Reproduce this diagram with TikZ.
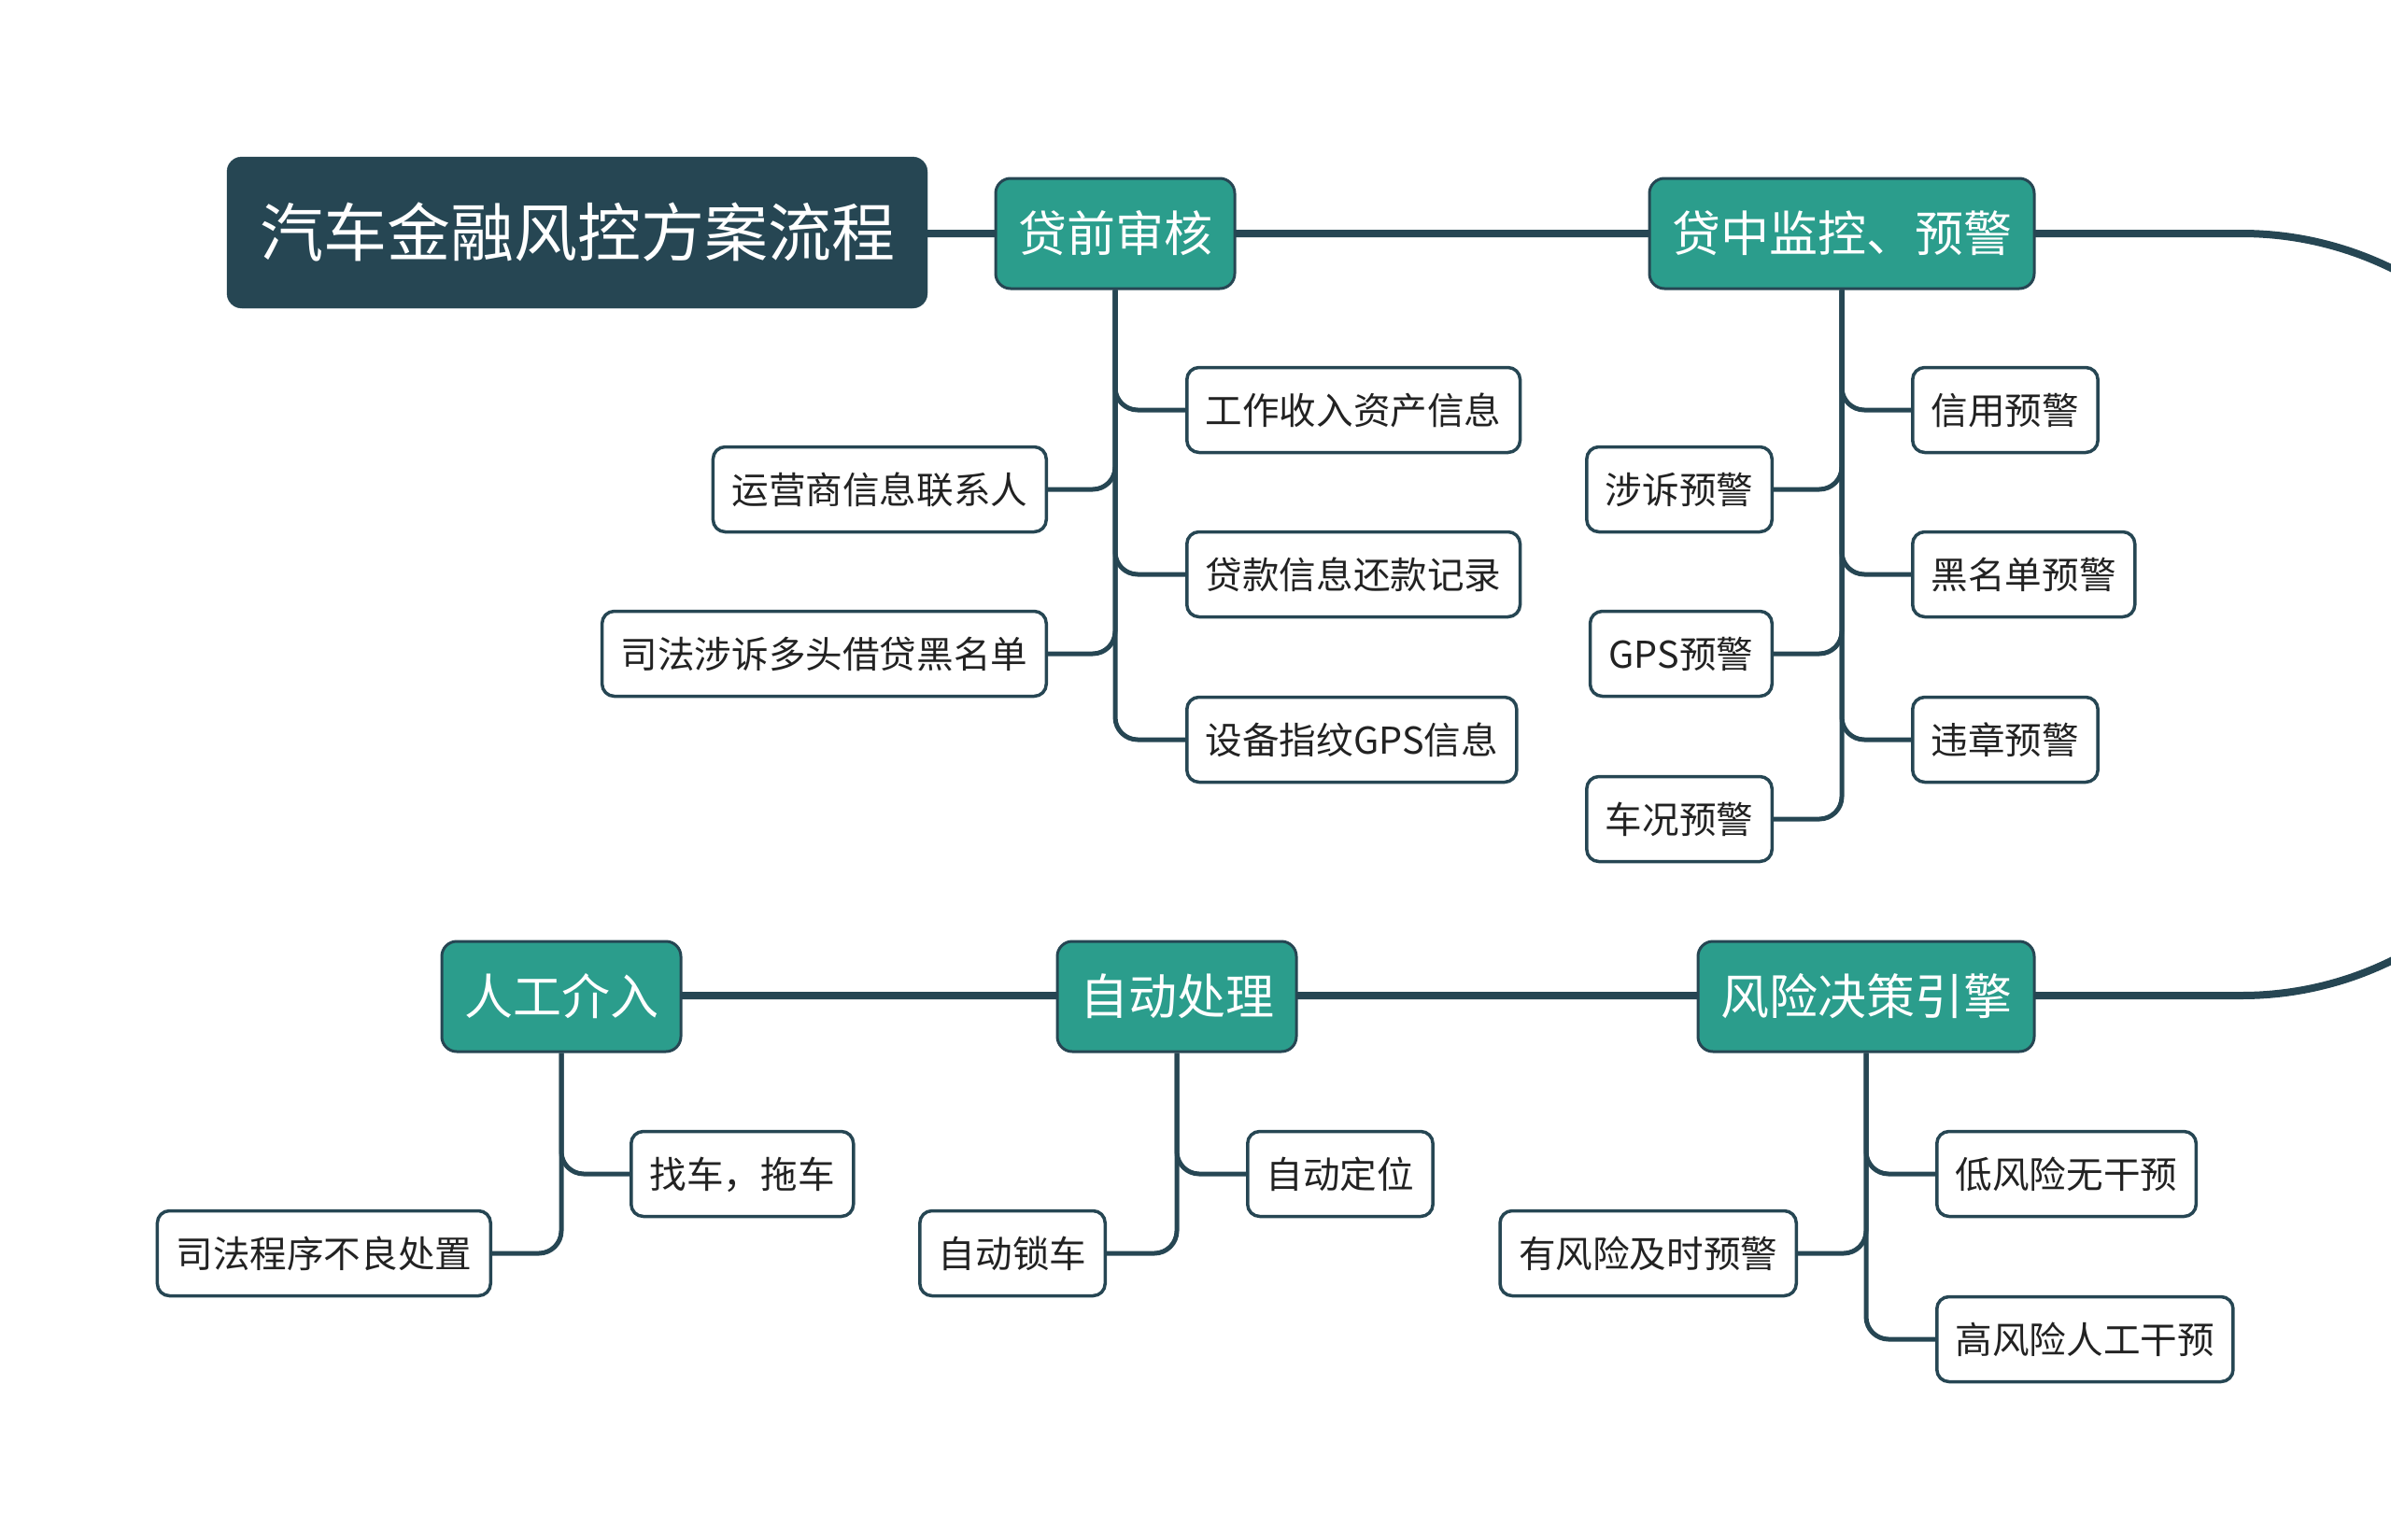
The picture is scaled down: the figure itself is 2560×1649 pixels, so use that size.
\documentclass[tikz,border=0pt]{standalone}
\usepackage{fontspec}
\newfontfamily\cjk{Noto Sans CJK SC}
\usetikzlibrary{calc}
\definecolor{slate}{RGB}{38,70,83}
\definecolor{topicgreen}{RGB}{43,157,140}
\definecolor{ink}{RGB}{34,34,34}
\tikzset{rootbox/.style={fill=slate, draw=slate, rounded corners=16pt, text=white,
    font=\cjk\fontsize{68}{80}\selectfont, minimum height=162pt, inner xsep=35pt, inner ysep=0pt,
    text height=56.4pt, text depth=4.8pt},
  topic/.style={fill=topicgreen, draw=slate, line width=3pt, rounded corners=16pt, text=white,
    font=\cjk\fontsize{52}{62}\selectfont, minimum height=118pt, inner xsep=24pt, inner ysep=0pt,
    text height=43.2pt, text depth=3.6pt},
  leaf/.style={fill=white, draw=slate, line width=3.5pt, rounded corners=13pt, text=ink,
    font=\cjk\fontsize{39.6}{48}\selectfont, minimum height=91pt, inner xsep=20pt, inner ysep=0pt,
    text height=32.9pt, text depth=2.8pt},
  trunk/.style={draw=slate, line width=8pt},
  twig/.style={draw=slate, line width=5pt, rounded corners=24pt}}

\begin{document}
\begin{tikzpicture}[x=1pt,y=-1pt]
  \clip (0,0) rectangle (2560,1649);
  % main line, drawn under the boxes
  \coordinate (bendtop) at (2400,250);
  \coordinate (bendbot) at (2400,1066);
  \draw[trunk] (618,250) -- (bendtop) arc[start angle=90, end angle=-90, x radius=384pt, y radius=408pt] -- (601,1066);
  % top row
  \node[rootbox] (root) at (618,249) {汽车金融风控方案流程};
  \node[topic] (pre) at (1194,250) {贷前审核};
  \node[topic] (mid) at (1972,250) {贷中监控、预警};
  % bottom row
  \node[topic] (eng) at (1998,1067) {风险决策引擎};
  \node[topic] (auto) at (1260,1067) {自动处理};
  \node[topic] (man) at (601,1067) {人工介入};
  % 贷前审核
  \node[leaf, anchor=west] (pre1) at (1269,439) {工作收入资产信息};
  \node[leaf, anchor=east] (pre2) at (1122,524) {运营商信息联系人};
  \node[leaf, anchor=west] (pre3) at (1269,615) {贷款信息还款记录};
  \node[leaf, anchor=east] (pre4) at (1122,700) {司法涉诉多头借贷黑名单};
  \node[leaf, anchor=west] (pre5) at (1269,792) {设备指纹GPS信息};
  \foreach \k/\side in {1/west,2/east,3/west,4/east,5/west}
    \draw[twig] (pre.south) |- (pre\k.\side);
  % 贷中监控、预警
  \node[leaf, anchor=west] (mid1) at (2046,439) {信用预警};
  \node[leaf, anchor=east] (mid2) at (1899,524) {涉诉预警};
  \node[leaf, anchor=west] (mid3) at (2046,615) {黑名单预警};
  \node[leaf, anchor=east] (mid4) at (1899,700) {GPS预警};
  \node[leaf, anchor=west] (mid5) at (2046,792) {违章预警};
  \node[leaf, anchor=east] (mid6) at (1899,877) {车况预警};
  \foreach \k/\side in {1/west,2/east,3/west,4/east,5/west,6/east}
    \draw[twig] (mid.south) |- (mid\k.\side);
  % 风险决策引擎
  \node[leaf, anchor=west] (eng1) at (2072,1257) {低风险无干预};
  \node[leaf, anchor=east] (eng2) at (1925,1342) {有风险及时预警};
  \node[leaf, anchor=west] (eng3) at (2072,1434) {高风险人工干预};
  \foreach \k/\side in {1/west,2/east,3/west}
    \draw[twig] (eng.south) |- (eng\k.\side);
  % 自动处理
  \node[leaf, anchor=west] (auto1) at (1334,1257) {自动定位};
  \node[leaf, anchor=east] (auto2) at (1185,1342) {自动锁车};
  \draw[twig] (auto.south) |- (auto1.west);
  \draw[twig] (auto.south) |- (auto2.east);
  % 人工介入
  \node[leaf, anchor=west] (man1) at (674,1257) {找车，拖车};
  \node[leaf, anchor=east] (man2) at (527,1342) {司法程序不良处置};
  \draw[twig] (man.south) |- (man1.west);
  \draw[twig] (man.south) |- (man2.east);
\end{tikzpicture}
\end{document}
